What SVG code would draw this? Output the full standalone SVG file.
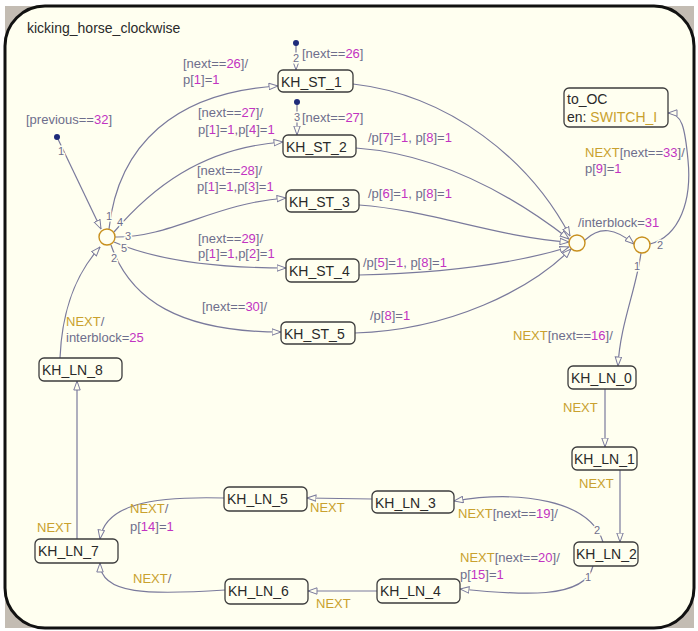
<svg xmlns="http://www.w3.org/2000/svg" width="698" height="631" viewBox="0 0 698 631">
  <style>
    text { font-family: "Liberation Sans", Arial, sans-serif; }
    .title { font-size: 14px; fill: #2a2a2a; }
    .state rect { fill: #FFFFF0; stroke: #3c3c3c; stroke-width: 1.3; }
    .state text { font-size: 14px; fill: #2a2a2a; }
    .junction circle { fill: #FFFFF0; stroke: #C8901E; stroke-width: 1.4; }
    .wire { fill: none; stroke: #7A7A9C; stroke-width: 1.2; marker-end: url(#open); }
    .lbl { font-size: 13px; fill: #6E6E8C; }
    .num { fill: #C233C2; }
    .evt { fill: #C9A12E; }
    .idx { font-size: 11px; fill: #6E6E8C; stroke: #FFFFF0; stroke-width: 3px; paint-order: stroke; }
    .dot { fill: #1E2B7A; }
  </style>
  <defs>
    <marker id="open" viewBox="0 0 10 8" refX="9.5" refY="4" markerWidth="10" markerHeight="8" markerUnits="userSpaceOnUse" orient="auto">
      <path d="M0.5,0.8 L9.5,4 L0.5,7.2 Z" fill="#FFFFF0" stroke="#7A7A9C" stroke-width="1"/>
    </marker>
  </defs>

  <!-- page and chart frame -->
  <rect x="0" y="0" width="698" height="631" fill="#FFFFFF"/>
  <rect x="5" y="6" width="689" height="622" fill="#C3BCB3"/>
  <rect x="5" y="6" width="689" height="622" rx="40" ry="40" fill="#FFFFF0" stroke="#111" stroke-width="3"/>
  <text class="title" x="27" y="33">kicking_horse_clockwise</text>

  <!-- transitions -->
  <g id="connectors">
    <path class="wire" d="M57,137 L101,229"/>
    <path class="wire" d="M296,43 L296,70"/>
    <path class="wire" d="M297,102 L297,135"/>

    <path class="wire" d="M109,229 C118,145 175,92 278,86"/>
    <path class="wire" d="M114,232 C150,190 200,148 283,142"/>
    <path class="wire" d="M115,237 C170,238 215,203 286,198"/>
    <path class="wire" d="M114,242 C160,262 220,268 286,268"/>
    <path class="wire" d="M111,245 C130,300 180,332 281,332"/>
    <path class="wire" d="M60,358 C62,310 75,275 100,247"/>

    <path class="wire" d="M353,84 C450,95 530,160 570,236"/>
    <path class="wire" d="M356,148 C450,155 525,205 569,239"/>
    <path class="wire" d="M359,205 C430,210 500,238 569,242"/>
    <path class="wire" d="M359,275 C450,273 520,262 569,247"/>
    <path class="wire" d="M355,333 C450,330 530,290 571,249"/>

    <path class="wire" d="M585,240 C600,226 615,228 634,244"/>
    <path class="wire" d="M650,244 C680,236 692,200 688,160 C685,128 682,113 668,113"/>
    <path class="wire" d="M641,253 C636,290 620,325 618,366"/>

    <path class="wire" d="M605,389 L605,447"/>
    <path class="wire" d="M620,470 L620,542"/>
    <path class="wire" d="M603,542 C590,500 520,490 454,501"/>
    <path class="wire" d="M593,566 C585,600 520,595 460,589"/>
    <path class="wire" d="M372,499 L307,498"/>
    <path class="wire" d="M377,591 L308,591"/>
    <path class="wire" d="M224,498 C150,496 105,505 100,539"/>
    <path class="wire" d="M225,590 C150,595 100,595 100,563"/>
    <path class="wire" d="M77,539 L77,381"/>

    <circle class="dot" cx="57" cy="137" r="3"/>
    <circle class="dot" cx="296" cy="43" r="3"/>
    <circle class="dot" cx="297" cy="102" r="3"/>

    <!-- execution order numbers -->
    <text class="idx" x="58" y="155">1</text>
    <text class="idx" x="293" y="62">2</text>
    <text class="idx" x="294" y="121">3</text>
    <text class="idx" x="106" y="220">1</text>
    <text class="idx" x="117" y="226">4</text>
    <text class="idx" x="125" y="240">3</text>
    <text class="idx" x="121" y="252">5</text>
    <text class="idx" x="111" y="262">2</text>
    <text class="idx" x="657" y="249">2</text>
    <text class="idx" x="634" y="270">1</text>
    <text class="idx" x="594" y="534">2</text>
    <text class="idx" x="585" y="581">1</text>

    <!-- transition labels -->
    <text class="lbl" x="26" y="124">[previous==<tspan class="num">32</tspan>]</text>
    <text class="lbl" x="302" y="58">[next==<tspan class="num">26</tspan>]</text>
    <text class="lbl" x="302" y="122">[next==<tspan class="num">27</tspan>]</text>
    <text class="lbl" x="183" y="68">[next==<tspan class="num">26</tspan>]/</text>
    <text class="lbl" x="183" y="84">p[<tspan class="num">1</tspan>]=<tspan class="num">1</tspan></text>
    <text class="lbl" x="198" y="117">[next==<tspan class="num">27</tspan>]/</text>
    <text class="lbl" x="198" y="134">p[<tspan class="num">1</tspan>]=<tspan class="num">1</tspan>,p[<tspan class="num">4</tspan>]=<tspan class="num">1</tspan></text>
    <text class="lbl" x="197" y="175">[next==<tspan class="num">28</tspan>]/</text>
    <text class="lbl" x="197" y="191">p[<tspan class="num">1</tspan>]=<tspan class="num">1</tspan>,p[<tspan class="num">3</tspan>]=<tspan class="num">1</tspan></text>
    <text class="lbl" x="198" y="243">[next==<tspan class="num">29</tspan>]/</text>
    <text class="lbl" x="198" y="258">p[<tspan class="num">1</tspan>]=<tspan class="num">1</tspan>,p[<tspan class="num">2</tspan>]=<tspan class="num">1</tspan></text>
    <text class="lbl" x="202" y="311">[next==<tspan class="num">30</tspan>]/</text>
    <text class="lbl" x="368" y="142">/p[<tspan class="num">7</tspan>]=<tspan class="num">1</tspan>, p[<tspan class="num">8</tspan>]=<tspan class="num">1</tspan></text>
    <text class="lbl" x="368" y="198">/p[<tspan class="num">6</tspan>]=<tspan class="num">1</tspan>, p[<tspan class="num">8</tspan>]=<tspan class="num">1</tspan></text>
    <text class="lbl" x="363" y="267">/p[<tspan class="num">5</tspan>]=<tspan class="num">1</tspan>, p[<tspan class="num">8</tspan>]=<tspan class="num">1</tspan></text>
    <text class="lbl" x="370" y="320">/p[<tspan class="num">8</tspan>]=<tspan class="num">1</tspan></text>
    <text class="lbl" x="578" y="227">/interblock=<tspan class="num">31</tspan></text>
    <text class="lbl" x="585" y="157"><tspan class="evt">NEXT</tspan>[next==<tspan class="num">33</tspan>]/</text>
    <text class="lbl" x="585" y="173">p[<tspan class="num">9</tspan>]=<tspan class="num">1</tspan></text>
    <text class="lbl" x="513" y="340"><tspan class="evt">NEXT</tspan>[next==<tspan class="num">16</tspan>]/</text>
    <text class="lbl evt" x="563" y="412">NEXT</text>
    <text class="lbl evt" x="579" y="488">NEXT</text>
    <text class="lbl" x="458" y="518"><tspan class="evt">NEXT</tspan>[next==<tspan class="num">19</tspan>]/</text>
    <text class="lbl" x="460" y="562"><tspan class="evt">NEXT</tspan>[next==<tspan class="num">20</tspan>]/</text>
    <text class="lbl" x="460" y="579">p[<tspan class="num">15</tspan>]=<tspan class="num">1</tspan></text>
    <text class="lbl evt" x="310" y="512">NEXT</text>
    <text class="lbl evt" x="316" y="608">NEXT</text>
    <text class="lbl" x="130" y="513"><tspan class="evt">NEXT</tspan>/</text>
    <text class="lbl" x="130" y="531">p[<tspan class="num">14</tspan>]=<tspan class="num">1</tspan></text>
    <text class="lbl" x="133" y="583"><tspan class="evt">NEXT</tspan>/</text>
    <text class="lbl evt" x="37" y="532">NEXT</text>
    <text class="lbl" x="66" y="326"><tspan class="evt">NEXT</tspan>/</text>
    <text class="lbl" x="66" y="342">interblock=<tspan class="num">25</tspan></text>
  </g>

  <!-- junctions -->
  <g id="junction_left" class="junction"><circle cx="107" cy="237" r="8"/></g>
  <g id="junction_mid" class="junction"><circle cx="577" cy="243" r="8"/></g>
  <g id="junction_right" class="junction"><circle cx="642" cy="245" r="8"/></g>

  <!-- states -->
  <g id="KH_ST_1" class="state"><rect x="278" y="70" width="75" height="22" rx="5"/><text x="281" y="87">KH_ST_1</text></g>
  <g id="KH_ST_2" class="state"><rect x="283" y="135" width="73" height="22" rx="5"/><text x="286" y="152">KH_ST_2</text></g>
  <g id="KH_ST_3" class="state"><rect x="286" y="190" width="73" height="22" rx="5"/><text x="289" y="207">KH_ST_3</text></g>
  <g id="KH_ST_4" class="state"><rect x="286" y="259" width="73" height="23" rx="5"/><text x="289" y="276">KH_ST_4</text></g>
  <g id="KH_ST_5" class="state"><rect x="281" y="322" width="74" height="22" rx="5"/><text x="284" y="339">KH_ST_5</text></g>
  <g id="to_OC" class="state"><rect x="564" y="88" width="104" height="39" rx="5"/><text x="567" y="104">to_OC</text><text x="567" y="122">en: <tspan fill="#C9A12E">SWITCH_I</tspan></text></g>
  <g id="KH_LN_0" class="state"><rect x="568" y="366" width="68" height="23" rx="5"/><text x="571" y="383">KH_LN_0</text></g>
  <g id="KH_LN_1" class="state"><rect x="572" y="447" width="65" height="23" rx="5"/><text x="574" y="464">KH_LN_1</text></g>
  <g id="KH_LN_2" class="state"><rect x="574" y="542" width="64" height="24" rx="5"/><text x="576" y="559">KH_LN_2</text></g>
  <g id="KH_LN_3" class="state"><rect x="372" y="491" width="82" height="22" rx="5"/><text x="375" y="508">KH_LN_3</text></g>
  <g id="KH_LN_4" class="state"><rect x="377" y="579" width="83" height="24" rx="5"/><text x="380" y="596">KH_LN_4</text></g>
  <g id="KH_LN_5" class="state"><rect x="224" y="487" width="83" height="24" rx="5"/><text x="227" y="504">KH_LN_5</text></g>
  <g id="KH_LN_6" class="state"><rect x="225" y="579" width="83" height="25" rx="5"/><text x="228" y="596">KH_LN_6</text></g>
  <g id="KH_LN_7" class="state"><rect x="35" y="539" width="83" height="24" rx="5"/><text x="38" y="556">KH_LN_7</text></g>
  <g id="KH_LN_8" class="state"><rect x="39" y="358" width="83" height="23" rx="5"/><text x="42" y="375">KH_LN_8</text></g>
</svg>
